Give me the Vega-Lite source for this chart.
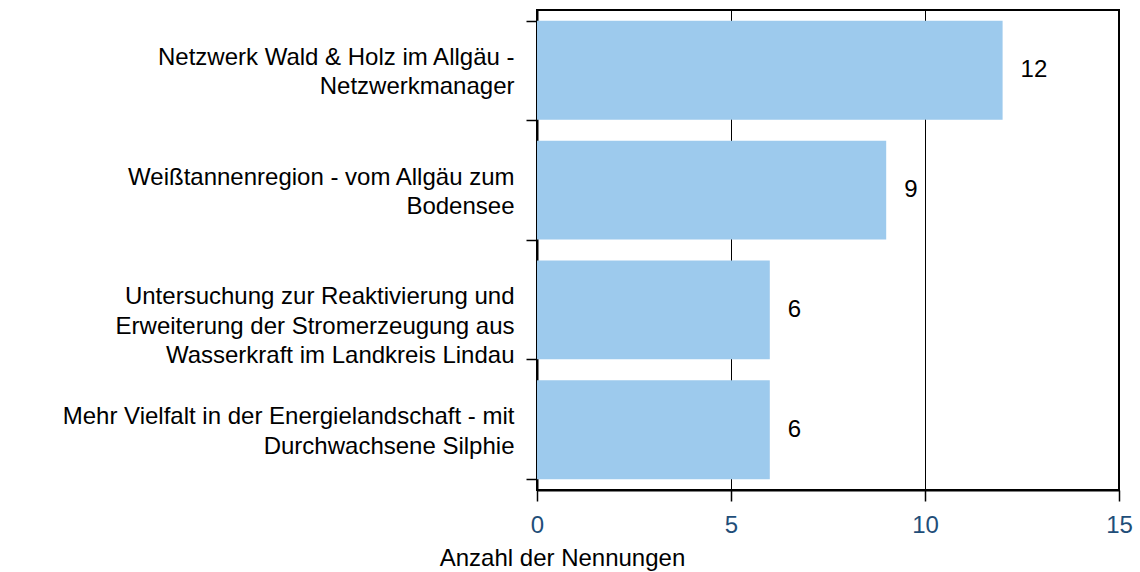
{
  "$schema": "https://vega.github.io/schema/vega-lite/v6.json",
  "width": 582,
  "height": 480,
  "autosize": {"type": "none"},
  "padding": {"left": 537, "top": 10, "right": 21, "bottom": 82},
  "background": "white",
  "config": {
    "font": "Liberation Sans",
    "view": {"stroke": "black", "strokeWidth": 2}
  },
  "data": {
    "values": [
      {"projekt": "Netzwerk Wald & Holz im Allgäu -|Netzwerkmanager", "anzahl": 12},
      {"projekt": "Weißtannenregion - vom Allgäu zum|Bodensee", "anzahl": 9},
      {"projekt": "Untersuchung zur Reaktivierung und|Erweiterung der Stromerzeugung aus|Wasserkraft im Landkreis Lindau", "anzahl": 6},
      {"projekt": "Mehr Vielfalt in der Energielandschaft - mit|Durchwachsene Silphie", "anzahl": 6}
    ]
  },
  "encoding": {
    "y": {
      "field": "projekt",
      "type": "nominal",
      "sort": null,
      "scale": {"paddingInner": 0.175, "paddingOuter": 0.09},
      "axis": {
        "title": null,
        "labelExpr": "split(datum.label, '|')",
        "labelFont": "Liberation Sans",
        "labelFontSize": 24,
        "labelColor": "black",
        "labelLineHeight": 29.5,
        "labelPadding": 12,
        "labelOffset": -13,
        "labelLimit": 600,
        "tickBand": "extent",
        "tickSize": 11,
        "tickColor": "black",
        "tickWidth": 1.5,
        "domainColor": "black",
        "domainWidth": 2,
        "grid": false
      }
    },
    "x": {
      "field": "anzahl",
      "type": "quantitative",
      "scale": {"domain": [0, 15], "nice": false},
      "axis": {
        "title": "Anzahl der Nennungen",
        "values": [0, 5, 10, 15],
        "titleFont": "Liberation Sans",
        "titleFontSize": 24,
        "titleFontWeight": "normal",
        "titleColor": "black",
        "titleX": 25,
        "titleY": 68,
        "titleAlign": "center",
        "titleBaseline": "middle",
        "labelFont": "Liberation Sans",
        "labelFontSize": 24,
        "labelColor": "#1F4E79",
        "labelPadding": 12,
        "labelFlush": false,
        "tickSize": 11,
        "tickColor": "black",
        "tickWidth": 1.5,
        "domainColor": "black",
        "domainWidth": 2,
        "grid": true,
        "gridColor": "black",
        "gridWidth": 1,
        "gridOpacity": 1
      }
    }
  },
  "layer": [
    {"mark": {"type": "bar", "color": "#9DCAED"}},
    {
      "mark": {"type": "text", "align": "left", "baseline": "middle", "dx": 18, "fontSize": 24, "font": "Liberation Sans", "color": "black"},
      "encoding": {"text": {"field": "anzahl", "type": "quantitative"}}
    }
  ]
}
